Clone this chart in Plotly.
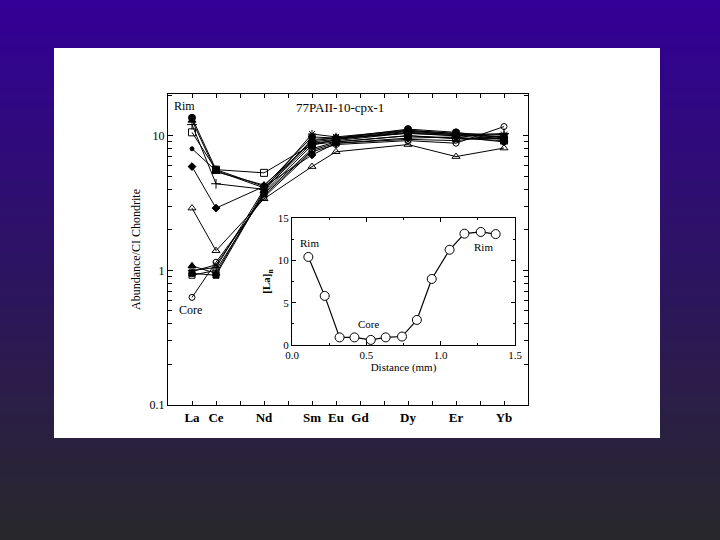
import plotly.graph_objects as go

# ---------------- data ----------------
ree_names = ["La", "Ce", "Pr", "Nd", "Pm", "Sm", "Eu", "Gd", "Tb", "Dy", "Ho", "Er", "Tm", "Yb"]
ree_index = list(range(1, 15))
labelled = ["La", "Ce", "Nd", "Sm", "Eu", "Gd", "Dy", "Er", "Yb"]
measured = ["La", "Ce", "Nd", "Sm", "Eu", "Dy", "Er", "Yb"]
measured_x = [ree_index[ree_names.index(e)] for e in measured]
label_x = [ree_index[ree_names.index(e)] for e in labelled]
unlabelled_x = [ree_index[i] for i, e in enumerate(ree_names) if e not in labelled]

# chondrite-normalized abundances, one list per analysis spot
s01 = [13.6, 5.6, 4.2, 9.8, 9.6, 11.2, 10.6, 9.6]
s02 = [13.0, 5.4, 4.3, 9.0, 9.4, 10.8, 10.2, 9.9]
s03 = [12.1, 4.4, 4.0, 8.8, 9.2, 10.5, 10.0, 10.4]
s04 = [10.6, 5.6, 5.3, 8.6, 9.0, 10.0, 9.6, 9.2]
s05 = [8.0, 5.5, 4.1, 9.2, 9.6, 10.9, 10.4, 9.4]
s06 = [5.9, 2.9, 4.2, 7.2, 8.8, 9.6, 9.8, 9.0]
s07 = [2.9, 1.4, 3.4, 5.9, 7.6, 8.6, 7.0, 8.1]
s08 = [1.0, 1.05, 4.0, 10.3, 9.8, 11.0, 10.4, 10.2]
s09 = [1.08, 0.95, 3.9, 9.4, 9.6, 10.4, 10.0, 9.4]
s10 = [0.95, 0.92, 3.8, 8.5, 9.4, 10.6, 10.2, 9.8]
s11 = [0.92, 1.0, 3.7, 8.0, 9.0, 10.0, 9.5, 9.6]
s12 = [0.98, 1.1, 3.6, 7.8, 8.8, 9.4, 9.2, 10.0]
s13 = [0.63, 1.15, 3.5, 7.6, 8.6, 9.2, 8.8, 11.7]

series = [s01, s02, s03, s04, s05, s06, s07, s08, s09, s10, s11, s12, s13]
symbols = ["circle", "triangle-up", "cross-thin", "square-open", "circle", "diamond",
           "triangle-up-open", "asterisk", "triangle-up", "square", "square-open",
           "x-thin", "circle-open"]
sizes = [7, 7, 7, 7, 4, 6, 7, 7, 7, 6, 6, 6, 6]

# inset: La profile across the crystal
dist_mm = [0.11, 0.22, 0.32, 0.42, 0.53, 0.63, 0.74, 0.84, 0.94, 1.06, 1.16, 1.27, 1.37]
la_n = [10.4, 5.8, 0.9, 0.9, 0.6, 0.9, 1.0, 2.96, 7.8, 11.25, 13.15, 13.35, 13.1]

main_major = [0.1, 1, 10]
main_major_text = ["0.1", "1", "10"]
main_minor = [0.2, 0.3, 0.4, 0.5, 0.6, 0.7, 0.8, 0.9, 2, 3, 4, 5, 6, 7, 8, 9, 20]

W, H = 720, 540
SERIF = "Liberation Serif"

fig = go.Figure()

for vals, sym, sz in zip(series, symbols, sizes):
    fig.add_trace(go.Scatter(
        x=measured_x, y=vals, mode="lines+markers",
        line=dict(color="black", width=1),
        marker=dict(symbol=sym, size=sz, color="black",
                    line=dict(color="black", width=1)),
        xaxis="x", yaxis="y", showlegend=False, hoverinfo="skip"))

fig.add_trace(go.Scatter(
    x=dist_mm, y=la_n, mode="lines+markers",
    line=dict(color="black", width=1.2),
    marker=dict(symbol="circle", size=9, color="white",
                line=dict(color="black", width=1)),
    xaxis="x2", yaxis="y2", showlegend=False, hoverinfo="skip"))

# ---------- background gradient and white panel ----------
shapes = []
n = 60
top = (50, 0, 150)
bot = (40, 40, 44)
for i in range(n):
    t = i / (n - 1)
    c = tuple(int(round(top[k] + (bot[k] - top[k]) * t)) for k in range(3))
    shapes.append(dict(type="rect", xref="paper", yref="paper",
                       x0=-0.05, x1=1.05, y0=1 - (i + 1) / n - 0.002 - (0.05 if i == n - 1 else 0),
                       y1=1 - i / n + (0.05 if i == 0 else 0),
                       fillcolor="rgb(%d,%d,%d)" % c, line=dict(width=0), layer="below"))
shapes.append(dict(type="rect", xref="paper", yref="paper",
                   x0=54 / W, x1=660 / W, y0=1 - 438 / H, y1=1 - 48 / H,
                   fillcolor="white", line=dict(width=0), layer="below"))


def px(xp):
    return xp / W


def py(yp):
    return 1 - yp / H


fig.update_layout(
    width=W, height=H,
    margin=dict(l=0, r=0, t=0, b=0, pad=0, autoexpand=False),
    paper_bgcolor="rgb(40,40,44)",
    plot_bgcolor="white",
    shapes=shapes,
    showlegend=False,
    font=dict(family=SERIF, color="black", size=12),
    xaxis=dict(domain=[px(168), px(528)], range=[0, 15],
               tickmode="array", tickvals=label_x, ticktext=labelled,
               tickfont=dict(size=13, weight="bold"),
               ticks="inside", ticklen=4, tickcolor="black",
               minor=dict(tickmode="array", tickvals=unlabelled_x, ticks="inside",
                          ticklen=4, tickcolor="black", showgrid=False),
               showline=True, linecolor="black", linewidth=1.2, mirror="allticks",
               showgrid=False, zeroline=False, anchor="y", automargin=False),
    yaxis=dict(domain=[py(405), py(94)], type="log", range=[-1, 1.31],
               tickmode="array", tickvals=main_major, ticktext=main_major_text,
               tickfont=dict(size=12),
               ticks="inside", ticklen=5, tickcolor="black",
               minor=dict(tickmode="array", tickvals=main_minor, ticks="inside",
                          ticklen=4, tickcolor="black", showgrid=False),
               showline=True, linecolor="black", linewidth=1.2, mirror="allticks",
               showgrid=False, zeroline=False, anchor="x", automargin=False,
               title=dict(text="Abundance/CI Chondrite", font=dict(size=12), standoff=6)),
    xaxis2=dict(domain=[px(292), px(515)], range=[0, 1.5],
                tickvals=[0, 0.5, 1.0, 1.5], ticktext=["0.0", "0.5", "1.0", "1.5"],
                tickfont=dict(size=11),
                ticks="inside", ticklen=4, tickcolor="black",
                minor=dict(ticks="inside", ticklen=2, dtick=0.25, tickcolor="black"),
                showline=True, linecolor="black", linewidth=1.2, mirror="allticks",
                showgrid=False, zeroline=False, anchor="y2", automargin=False,
                title=dict(text="Distance (mm)", font=dict(size=11), standoff=2)),
    yaxis2=dict(domain=[py(345), py(218)], range=[0, 15],
                tickvals=[0, 5, 10, 15],
                tickfont=dict(size=11),
                ticks="inside", ticklen=4, tickcolor="black",
                minor=dict(ticks="inside", ticklen=2, dtick=2.5, tickcolor="black"),
                showline=True, linecolor="black", linewidth=1.2, mirror="allticks",
                showgrid=False, zeroline=False, anchor="x2", automargin=False,
                title=dict(text="<b>[La]<sub>n</sub></b>", font=dict(size=11), standoff=4)),
    annotations=[
        dict(text="77PAII-10-cpx-1", x=px(340), y=py(108), xref="paper", yref="paper",
             xanchor="center", yanchor="middle", showarrow=False, font=dict(size=13)),
        dict(text="Rim", x=px(184), y=py(106), xref="paper", yref="paper",
             xanchor="center", yanchor="middle", showarrow=False, font=dict(size=12)),
        dict(text="Core", x=px(190), y=py(310), xref="paper", yref="paper",
             xanchor="center", yanchor="middle", showarrow=False, font=dict(size=12)),
        dict(text="Rim", x=0.12, y=12.0, xref="x2", yref="y2",
             xanchor="center", yanchor="middle", showarrow=False, font=dict(size=11)),
        dict(text="Core", x=0.52, y=2.5, xref="x2", yref="y2",
             xanchor="center", yanchor="middle", showarrow=False, font=dict(size=11)),
        dict(text="Rim", x=1.29, y=11.6, xref="x2", yref="y2",
             xanchor="center", yanchor="middle", showarrow=False, font=dict(size=11)),
    ],
)

fig.write_html(
    "out.html",
    config={"displayModeBar": False},
    post_script="document.body.style.margin='0';document.body.style.padding='0';"
                "document.body.style.overflow='hidden';",
)
